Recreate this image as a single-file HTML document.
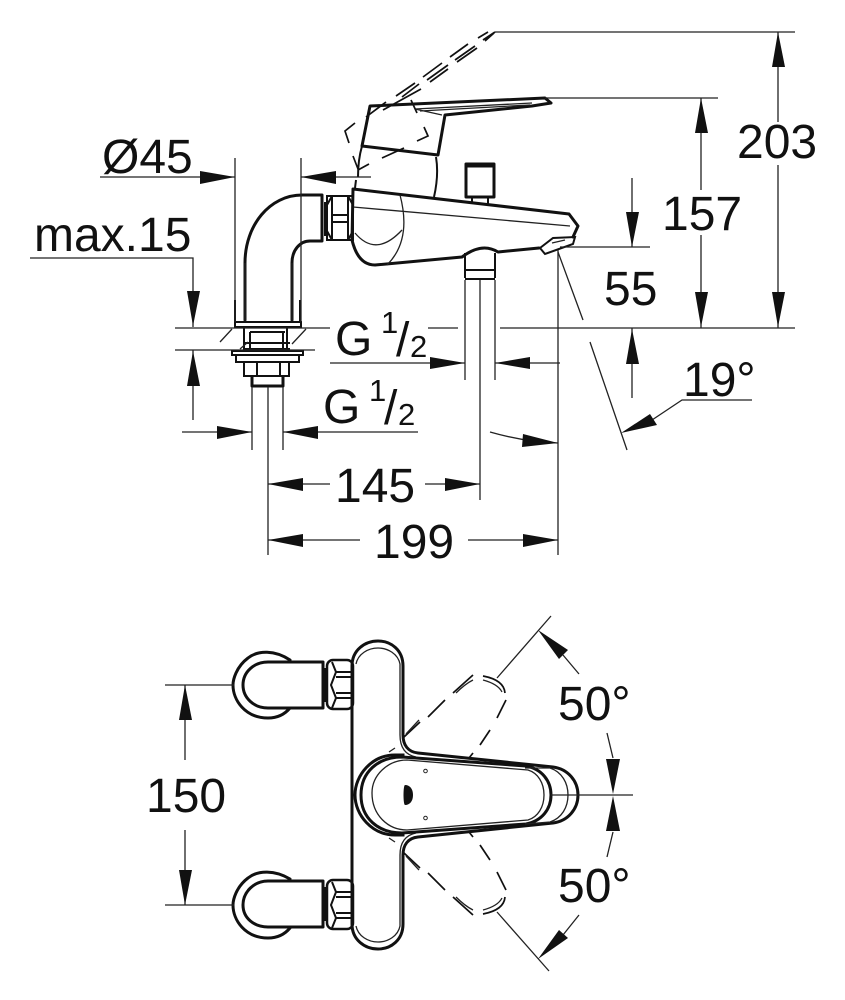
<!DOCTYPE html>
<html><head><meta charset="utf-8"><style>
html,body{margin:0;padding:0;background:#fff}
svg{display:block}
text{font-family:"Liberation Sans",sans-serif;font-size:48px;fill:#111}
.t{fill:none;stroke:#111;stroke-width:3;stroke-linejoin:round;stroke-linecap:round}
.m{fill:none;stroke:#111;stroke-width:2}
.n{fill:none;stroke:#222;stroke-width:1.3}
.g{fill:none;stroke:#111;stroke-width:1.7}
.a{fill:#111;stroke:none}
</style></head><body>
<svg width="845" height="1000" viewBox="0 0 845 1000" xmlns="http://www.w3.org/2000/svg">
<rect width="845" height="1000" fill="#fff"/>
<!-- faucet side view -->
<path class="t" d="M370 106L545 98L551 103L532 106L445 115L438 155L362 146Z"/>
<path class="n" d="M415 109L442 115M415 109L532 103M420 111L530 105"/>
<path class="m" d="M362 146Q358 160 358 177M356 180L355 188M436 157Q439 175 434 197"/>
<path class="t" d="M353 189L569 214L578 226L573 237M353 189L352 240Q358 265 375 265L462 257Q482 242 498 252L539 248"/>
<path class="m" d="M540 248L545 254L573 244L575 237L553 238Z"/>
<path class="n" d="M552 243L565 240M353 207L570 226M400 195Q412 240 387 265M355 233Q376 258 402 230"/>
<path class="t" d="M466 166H494V197H466ZM466 166V164H494V166"/>
<path class="m" d="M472 197V203M488 197V204"/>
<path class="m" d="M465 253V278M495 253V278M465 279H495M465 270H495"/>
<path class="n" d="M465 280V380M495 280V380M480 280V500"/>
<!-- elbow -->
<path class="t" d="M322 195H302C270 195 245 225 245 263V320M322 241H310C300 241 292 250 292 263V320M322 195V241"/>
<path class="m" d="M325 202V236M327 196H353V240H327ZM332 196L327 205V231L332 240M348 196L353 205V231L348 240M332 196V240M348 196V240M332 215H348M332 222H348"/>
<!-- dashed ghost handle -->
<path class="g" d="M396 96L415 83M423 77L442 63M450 57L468 44M478 38L488 32M402 97L419 84M427 80L448 65M455 60L475 46M483 40L495 32M383 110L421 89M430 82L448 69M457 62L477 48M485 41L494 33"/>
<path class="g" d="M366 117L386 102M355 123L345 131L349 143M353 156L358 169M369 164L358 170M382 158L404 148M417 141L428 136L424 127M417 113L411 100"/>
<!-- base -->
<path class="m" d="M235 322V300M300 322V300"/>
<path class="n" d="M245 263V322M292 263V322"/>
<path class="m" d="M235 322H301V327H235Z"/>
<path class="m" d="M244 327V351M287 327V351M250 332V350M283 332V350M250 332H285M245 343H290M245 349H290"/>
<path class="n" d="M220 342L232 329M292 344L306 329M240 349L248 342"/>
<path class="m" d="M232 351H303V355H232ZM236 355V362H299V355M244 362V376H289V362M257 362V376M280 362V376"/>
<path class="t" d="M252 377V386H283V377"/>
<path class="n" d="M252 387V450M283 387V450M268 387V555"/>
<!-- dimensions -->
<path class="n" d="M100 177H235M235 158V322M301 158V322M301 177H371"/>
<polygon class="a" points="235,177 200,171 200,184"/><polygon class="a" points="301,177 336,171 336,184"/>
<path class="n" d="M30 258H193V327M175 328H330M428 328H458M500 328H795M175 350H315M193 350V420"/>
<polygon class="a" points="193,326 187,291 200,291"/><polygon class="a" points="193,351 187,386 200,386"/>
<path class="n" d="M330 363H465M495 363H560"/>
<polygon class="a" points="465,363 430,357 430,369"/><polygon class="a" points="495,363 530,357 530,369"/>
<path class="n" d="M182 432H252M283 432H418"/>
<polygon class="a" points="252,432 217,426 217,439"/><polygon class="a" points="283,432 318,426 318,439"/>
<path class="n" d="M268 484H330M425 484H480M268 540H360M468 540H558M558 250V555"/>
<polygon class="a" points="268,484 303,478 303,491"/><polygon class="a" points="480,484 445,478 445,491"/>
<polygon class="a" points="268,540 303,534 303,547"/><polygon class="a" points="558,540 523,534 523,547"/>
<path class="n" d="M495 32H795M778 32V122M778 165V328M545 98H718M701 98V190M701 235V328"/>
<polygon class="a" points="778,32 772,67 785,67"/><polygon class="a" points="778,327 772,292 785,292"/>
<polygon class="a" points="701,98 695,133 708,133"/><polygon class="a" points="701,327 695,292 708,292"/>
<path class="n" d="M632 178V247M560 247H650M632 328V398"/>
<polygon class="a" points="632,247 626,212 639,212"/><polygon class="a" points="632,329 626,364 639,364"/>
<path class="n" d="M558 252L583 320M590 342L627 450M752 400H682L652 420M490 432Q525 442 558 443"/>
<polygon class="a" points="621,433 650,414 657,425"/><polygon class="a" points="558,443 523,434 522,447"/>
<!-- labels -->
<text x="102" y="173">Ø45</text>
<text x="34" y="251">max.15</text>
<text x="737" y="158">203</text>
<text x="662" y="230">157</text>
<text x="604" y="305">55</text>
<text x="683" y="396">19°</text>
<text x="335" y="502">145</text>
<text x="374" y="558">199</text>
<text x="335" y="355">G</text><text x="381" y="333" style="font-size:31px">1</text><text x="396" y="356">/</text><text x="410" y="357" style="font-size:31px">2</text>
<text x="323" y="423">G</text><text x="369" y="401" style="font-size:31px">1</text><text x="384" y="424">/</text><text x="398" y="425" style="font-size:31px">2</text>
<!-- top view: plate -->
<path class="t" d="M352 666C352 650 365 641 378 641C391 641 403 650 403 666V735C403 745 408 752 418 753L553 767C568 769 578 781 578 795C578 809 568 821 553 823L418 837C408 838 403 845 403 855V924C403 940 391 949 378 949C365 949 352 940 352 924Z"/>
<path class="n" d="M356 664C358 654 368 648 378 648C388 648 398 654 400 664V735C400 748 406 755 416 757M356 926C358 936 368 942 378 942C388 942 398 936 400 926V855C400 842 406 835 416 833"/>
<!-- top view: handle -->
<path d="M395 755C372 755 355 775 355 795C355 815 372 835 395 835L403 835V755Z" fill="#fff" stroke="#111" stroke-width="3"/>
<path class="m" d="M361 795C361 772 378 757 402 757L526 766C542 769 551 781 551 795C551 809 542 821 526 824L402 833C378 833 361 818 361 795Z" style="stroke-width:3;fill:#fff"/>
<path class="n" d="M372 793C372 775 388 760 407 760L528 770C538 773 544 783 544 795C544 807 538 817 528 820L407 830C388 830 372 815 372 793ZM525 768L550 768C562 772 568 783 568 795C568 807 562 818 550 822L525 824M389 752L395 748M389 838L395 842"/>
<path d="M405 785c5 0 8 4 8 10s-3 10-8 10c-2 0-2-20 0-20z" fill="#111"/>
<circle cx="425.500" cy="771" r="1.800" fill="none" stroke="#222"/><circle cx="425.500" cy="818" r="1.800" fill="none" stroke="#222"/>
<!-- ghost handles -->
<g id="gh">
<path class="g" d="M404 737L420 722M428 717L445 700M453 693L473 675M483 676Q504 680 505 693M506 700L497 718M490 730L480 745M473 753L469 758"/>
<path class="n" d="M406 734L419 720M456 693Q465 684 473 680M483 680Q498 684 502 692M497 678L551 616"/>
</g>
<g transform="translate(0,1590) scale(1,-1)">
<path class="g" d="M404 737L420 722M428 717L445 700M453 693L473 675M483 676Q504 680 505 693M506 700L497 718M490 730L480 745M473 753L469 758"/>
<path class="n" d="M406 734L419 720M456 693Q465 684 473 680M483 680Q498 684 502 692"/>
</g>
<path class="n" d="M497 912L549 971"/>
<!-- nuts and elbows -->
<g>
<path class="t" d="M290 660C275 650 258 650 248 658C236 667 233 680 233 685C233 700 245 718 268 718C278 718 285 714 290 708"/>
<path class="t" d="M323 662H268C254 662 243 672 243 685C243 698 254 708 268 708H323V662Z" style="fill:#fff"/>
<path class="m" d="M325 668V702"/>
<rect x="327" y="660" width="26" height="49" rx="6" class="t" style="stroke-width:2.500"/>
<path class="m" d="M336 672H352M336 677H352M336 693H352M336 698H352M336 672L331 685L336 698M332 662L336 672M332 708L336 698"/>
</g>
<g>
<path class="t" d="M290 879C275 870 258 870 248 878C236 887 233 900 233 905C233 920 245 938 268 938C278 938 285 934 290 928"/>
<path class="t" d="M323 881H268C254 881 243 892 243 905C243 918 254 927 268 927H323V881Z" style="fill:#fff"/>
<path class="m" d="M325 887V921"/>
<rect x="327" y="880" width="26" height="49" rx="6" class="t" style="stroke-width:2.500"/>
<path class="m" d="M336 892H352M336 897H352M336 913H352M336 918H352M336 892L331 905L336 918M332 882L336 892M332 928L336 918"/>
</g>
<!-- top dims -->
<path class="n" d="M165 685H234M165 905H234M185 685V760M185 830V905"/>
<polygon class="a" points="185,685 179,720 192,720"/><polygon class="a" points="185,905 179,870 192,870"/>
<path class="n" d="M551 795H633"/>
<path class="n" d="M563 655L579 674M607 733L613 758M613 832L607 857M579 915L563 935"/>
<polygon class="a" points="538,630 568,650 559,659"/><polygon class="a" points="538,959 568,938 559,930"/>
<polygon class="a" points="613,794 606,759 620,759"/><polygon class="a" points="613,796 606,831 620,831"/>
<text x="146" y="812">150</text>
<text x="558" y="720">50°</text>
<text x="558" y="902">50°</text>
</svg>
</body></html>
